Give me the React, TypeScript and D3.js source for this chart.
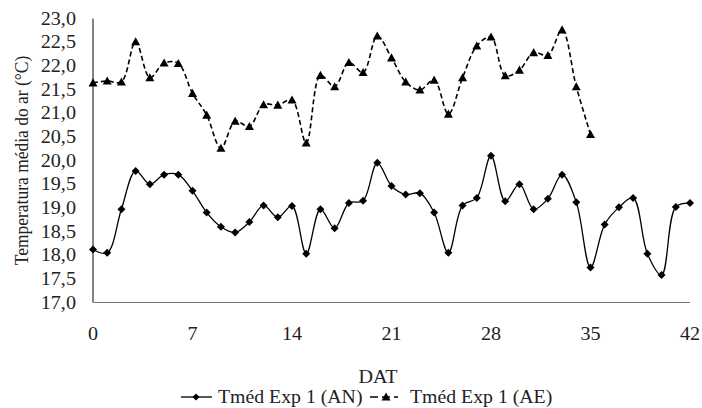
import React from 'react';
import * as d3 from 'd3';

// Tméd Exp 1 (AN), daily from DAT 0 to 42
const anTemps = [
  18.12, 18.05, 18.97, 19.78, 19.5, 19.7, 19.7, 19.36, 18.9, 18.6, 18.48,
  18.7, 19.05, 18.8, 19.04, 18.03, 18.97, 18.57, 19.1, 19.15, 19.95, 19.46,
  19.28, 19.31, 18.9, 18.05, 19.05, 19.21, 20.1, 19.14, 19.5, 18.97, 19.19,
  19.7, 19.12, 17.74, 18.65, 19.01, 19.21, 18.03, 17.58, 19.02, 19.1,
];
// Tméd Exp 1 (AE), daily from DAT 0 to 35
const aeTemps = [
  21.64, 21.68, 21.66, 22.51, 21.75, 22.06, 22.05, 21.42, 20.96, 20.26,
  20.83, 20.72, 21.18, 21.17, 21.28, 20.37, 21.8, 21.56, 22.07, 21.86,
  22.63, 22.17, 21.66, 21.49, 21.7, 20.98, 21.75, 22.42, 22.61, 21.79,
  21.91, 22.28, 22.22, 22.76, 21.56, 20.55,
];
const xTicks = [0, 7, 14, 21, 28, 35, 42];
const yTicks = [17, 17.5, 18, 18.5, 19, 19.5, 20, 20.5, 21, 21.5, 22, 22.5, 23];
const seriesNames = ['Tméd Exp 1 (AN)', 'Tméd Exp 1 (AE)'];

const W = 702;
const H = 408;
const FONT = 'Liberation Serif';
const SX = 1.12; // the source image is stretched horizontally

const fmt = (v: number) => d3.format('.1f')(v).replace('.', ',');

const diamond = (x: number, y: number, r = 4) =>
  `M${x},${y - r}L${x + r},${y}L${x},${y + r}L${x - r},${y}Z`;
const triangle = (x: number, y: number, r = 4.5) =>
  `M${x},${y - r}L${x + r},${y + r * 0.8}L${x - r},${y + r * 0.8}Z`;

const Label = ({ x, y, anchor, sx = SX, children }: any) => (
  <text
    transform={`translate(${x},${y}) scale(${sx},1)`}
    textAnchor={anchor}
    fontFamily={FONT}
    fontSize={18}
    fill="#222"
  >
    {children}
  </text>
);

export default function App() {
  const x = d3.scaleLinear().domain([0, 42]).range([93, 690]);
  const y = d3.scaleLinear().domain([17, 23]).range([302.5, 18.5]);

  const line = d3
    .line<number>()
    .x((_, i) => x(i))
    .y((d) => y(d))
    .curve(d3.curveCatmullRom.alpha(0.5));

  return (
    <svg
      width={W}
      height={H}
      style={{ position: 'absolute', left: 0, top: 0, background: '#fff' }}
    >
      {/* axes */}
      <line x1={x(0)} x2={x(0)} y1={y(23)} y2={y(17)} stroke="#333" strokeWidth={1.2} />
      <line x1={x(0)} x2={x(42)} y1={y(17)} y2={y(17)} stroke="#777" strokeWidth={1.2} />

      {yTicks.map((t) => (
        <Label key={t} x={76} y={y(t) + 6} anchor="end">
          {fmt(t)}
        </Label>
      ))}
      {xTicks.map((t) => (
        <Label key={t} x={x(t)} y={340} anchor="middle">
          {t}
        </Label>
      ))}

      <text
        transform={`translate(28,${y(20)}) rotate(-90) scale(1,${SX})`}
        textAnchor="middle"
        fontFamily={FONT}
        fontSize={17.5}
        fill="#222"
      >
        Temperatura média do ar (°C)
      </text>
      <Label x={378} y={383} anchor="middle">DAT</Label>

      {/* AN series */}
      <path d={line(anTemps) || ''} fill="none" stroke="#000" strokeWidth={1.3} />
      {anTemps.map((d, i) => (
        <path key={i} d={diamond(x(i), y(d))} fill="#000" />
      ))}

      {/* AE series */}
      <path
        d={line(aeTemps) || ''}
        fill="none"
        stroke="#000"
        strokeWidth={1.6}
        strokeDasharray="5,3"
      />
      {aeTemps.map((d, i) => (
        <path key={i} d={triangle(x(i), y(d))} fill="#000" />
      ))}

      {/* legend */}
      <line x1={181} x2={212} y1={397} y2={397} stroke="#000" strokeWidth={1.3} />
      <path d={diamond(196, 397, 3.5)} fill="#000" />
      <Label x={218} y={403} anchor="start" sx={1.1}>{seriesNames[0]}</Label>
      <line x1={370} x2={398} y1={397} y2={397} stroke="#000" strokeWidth={1.6} strokeDasharray="8,4" />
      <path d={triangle(386, 397, 4.5)} fill="#000" />
      <Label x={410} y={403} anchor="start" sx={1.1}>{seriesNames[1]}</Label>
    </svg>
  );
}
